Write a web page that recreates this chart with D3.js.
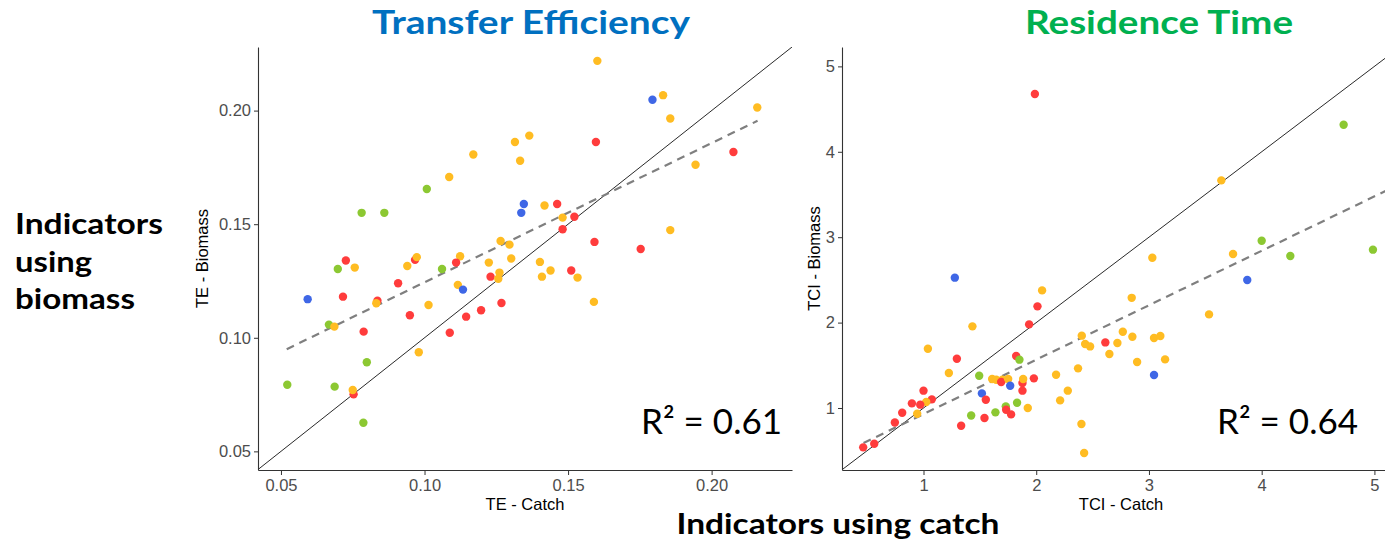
<!DOCTYPE html>
<meta charset="utf-8">
<style>
    body { margin: 0; background: #fff; }
    svg { display: block; }
    .tick text { fill: #4d4d4d; font-family: "Liberation Sans", Arial, sans-serif; font-size: 16.5px; }
    .tick line { stroke: #333; }
    .domain { stroke: #333; stroke-width: 1.1; }
</style>
<svg width="1385" height="544"></svg>
<script src="https://cdn.jsdelivr.net/npm/d3@7"></script>
<script>

    // Transfer efficiency, catch vs biomass based indicator
    var teCatch = [0.0781, 0.086, 0.1008, 0.1086, 0.117, 0.1265, 0.1794, 0.1831, 0.1602, 0.1856,
        0.2159, 0.1315, 0.1365, 0.1333, 0.1597, 0.2076, 0.1944, 0.1346, 0.1337, 0.1418,
        0.1462, 0.1481, 0.1522, 0.1481, 0.1856, 0.1592, 0.1753, 0.1296, 0.1302, 0.1224,
        0.1402, 0.1439, 0.1409, 0.1511, 0.1533, 0.123, 0.1261, 0.1257, 0.1268, 0.1197,
        0.159, 0.0726, 0.0698, 0.0757, 0.094, 0.0967, 0.0973, 0.1124, 0.111, 0.1061,
        0.1116, 0.1134, 0.0908, 0.0593, 0.0716, 0.0836, 0.0832, 0.1014, 0.0949, 0.1145,
        0.1088, 0.0667, 0.0686, 0.0788, 0.0799, 0.098, 0.0522, 0.0687, 0.0753, 0.075, 0.0787];
    var teBiomass = [0.155, 0.155, 0.1655, 0.1708, 0.1807, 0.1426, 0.2048, 0.2068, 0.2219, 0.1965,
        0.2014, 0.1862, 0.189, 0.1779, 0.1862, 0.1818, 0.1762, 0.1589, 0.155, 0.1582,
        0.1589, 0.1529, 0.1533, 0.1478, 0.1474, 0.1422, 0.1391, 0.141, 0.1349, 0.1331,
        0.1334, 0.1296, 0.1269, 0.1296, 0.1265, 0.1269, 0.1287, 0.126, 0.1153, 0.1121,
        0.1158, 0.134, 0.1303, 0.1309, 0.1316, 0.1343, 0.1355, 0.1359, 0.1331, 0.1303,
        0.1233, 0.1212, 0.124, 0.117, 0.1181, 0.1163, 0.1152, 0.1144, 0.1099, 0.1093,
        0.1022, 0.1058, 0.1049, 0.1027, 0.0892, 0.0936, 0.0793, 0.0785, 0.0751, 0.077, 0.0626];
    var teGroup = ["G", "G", "G", "O", "O", "O", "B", "O", "O", "O",
        "O", "O", "O", "O", "R", "R", "O", "B", "B", "O",
        "R", "O", "R", "R", "O", "R", "R", "O", "O", "O",
        "O", "O", "O", "R", "O", "R", "O", "O", "R", "R",
        "O", "R", "G", "O", "O", "R", "O", "O", "R", "G",
        "O", "B", "R", "B", "R", "R", "O", "O", "R", "R",
        "R", "G", "O", "R", "G", "O", "G", "G", "R", "O", "G"];
    var teFitX = [0.052, 0.216];
    var teFitY = [0.095, 0.1955];
    var teTicks = [0.05, 0.10, 0.15, 0.20];

    // Residence time (TCI), catch vs biomass based indicator
    var tciCatch = [1.988, 1.278, 2.052, 4.727, 3.642, 4.0, 3.746, 4.254, 4.987, 3.03,
        3.872, 2.847, 2.011, 1.937, 1.434, 2.404, 2.434, 2.478, 1.039, 1.822,
        1.851, 1.296, 1.225, 1.494, 1.609, 1.645, 1.7, 1.689, 1.751, 1.878,
        1.884, 1.979, 1.769, 1.878, 2.176, 2.371, 2.28, 2.212, 1.518, 1.553,
        1.0, 1.074, 1.024, 0.897, 0.971, 0.811, 0.944, 0.746, 0.563, 0.465,
        1.73, 1.733, 1.777, 1.83, 1.925, 1.638, 1.423, 1.541, 1.334, 2.401,
        2.425, 3.533, 2.768, 2.853, 3.045, 3.101, 2.613, 2.72, 2.649, 2.895, 3.143, 3.045];
    var tciBiomass = [4.677, 2.526, 2.377, 4.317, 3.665, 2.959, 2.803, 2.78, 2.854, 2.76,
        2.499, 2.29, 2.19, 1.979, 1.956, 1.847, 1.749, 1.721, 1.694, 1.609,
        1.566, 1.577, 1.41, 1.378, 1.34, 1.331, 1.331, 1.304, 1.34, 1.293,
        1.34, 1.347, 1.261, 1.203, 1.39, 1.464, 1.203, 1.089, 1.171, 1.097,
        1.203, 1.101, 1.07, 1.054, 1.039, 0.945, 0.933, 0.831, 0.582, 0.539,
        1.019, 0.98, 0.925, 1.062, 1.0, 0.949, 0.913, 0.883, 0.793, 0.813,
        0.473, 2.096, 1.893, 1.835, 1.82, 1.843, 1.768, 1.761, 1.632, 1.539, 1.569, 1.386];
    var tciGroup = ["R", "B", "O", "G", "O", "G", "O", "G", "G", "O",
        "B", "O", "R", "R", "O", "O", "O", "O", "O", "R",
        "G", "R", "O", "G", "O", "O", "O", "R", "O", "R",
        "O", "R", "B", "R", "O", "O", "O", "O", "B", "R",
        "R", "R", "O", "R", "R", "R", "O", "R", "R", "R",
        "G", "R", "R", "G", "O", "G", "G", "R", "R", "O",
        "O", "O", "O", "O", "O", "O", "R", "O", "O", "O", "O", "B"];
    var tciFitX = [0.468, 5.2];
    var tciFitY = [0.59, 3.605];
    var tciTicks = [1, 2, 3, 4, 5];

    var groupColor = { R: "#ff3c3c", O: "#ffbc22", G: "#8cc832", B: "#3f67e6" };

    var svg = d3.select("svg");
    var plotTop = 47, plotBottom = 470;

    var panels = [
        {
            xs: teCatch, ys: teBiomass, gs: teGroup, fitX: teFitX, fitY: teFitY,
            xDomain: [0.042, 0.228], yDomain: [0.0418, 0.228], left: 258, right: 792,
            ticks: teTicks, fmt: d3.format(".2f"),
            xTitle: "TE - Catch", yTitle: "TE - Biomass", yTitleX: 208, r2: "R² = 0.61", r2X: 782
        },
        {
            xs: tciCatch, ys: tciBiomass, gs: tciGroup, fitX: tciFitX, fitY: tciFitY,
            xDomain: [0.277, 5.227], yDomain: [0.274, 5.227], left: 842, right: 1400,
            ticks: tciTicks, fmt: d3.format("d"),
            xTitle: "TCI - Catch", yTitle: "TCI - Biomass", yTitleX: 820, r2: "R² = 0.64", r2X: 1358
        }
    ];

    panels.forEach(function (p, k) {
        var x = d3.scaleLinear().domain(p.xDomain).range([p.left, p.right]);
        var y = d3.scaleLinear().domain(p.yDomain).range([plotBottom, plotTop]);
        var g = svg.append("g");

        g.append("clipPath").attr("id", "clip" + k)
            .append("rect")
            .attr("x", p.left).attr("y", plotTop)
            .attr("width", p.right - p.left).attr("height", plotBottom - plotTop);

        var plot = g.append("g").attr("clip-path", "url(#clip" + k + ")");

        // 1:1 line
        var lo = Math.max(p.xDomain[0], p.yDomain[0]), hi = Math.max(p.xDomain[1], p.yDomain[1]);
        plot.append("line")
            .attr("x1", x(lo)).attr("y1", y(lo))
            .attr("x2", x(hi)).attr("y2", y(hi))
            .attr("stroke", "#111").attr("stroke-width", 0.9);

        // regression line
        plot.append("line")
            .attr("x1", x(p.fitX[0])).attr("y1", y(p.fitY[0]))
            .attr("x2", x(p.fitX[1])).attr("y2", y(p.fitY[1]))
            .attr("stroke", "#7f7f7f").attr("stroke-width", 2.2)
            .attr("stroke-dasharray", "8,6");

        plot.selectAll("circle")
            .data(d3.range(p.xs.length))
            .enter().append("circle")
            .attr("cx", function (i) { return x(p.xs[i]); })
            .attr("cy", function (i) { return y(p.ys[i]); })
            .attr("r", 4.2)
            .attr("fill", function (i) { return groupColor[p.gs[i]]; });

        g.append("g")
            .attr("transform", "translate(0," + plotBottom + ")")
            .call(d3.axisBottom(x).tickValues(p.ticks).tickFormat(p.fmt).tickSize(5).tickSizeOuter(0).tickPadding(4));

        g.append("g")
            .attr("transform", "translate(" + p.left + ",0)")
            .call(d3.axisLeft(y).tickValues(p.ticks).tickFormat(p.fmt).tickSize(4).tickSizeOuter(0).tickPadding(3));

        g.append("text")
            .attr("x", (p.left + p.right) / 2).attr("y", 510)
            .attr("text-anchor", "middle")
            .style("font-family", "'Liberation Sans', Arial, sans-serif")
            .style("font-size", "16.5px")
            .text(p.xTitle);

        g.append("text")
            .attr("transform", "translate(" + p.yTitleX + "," + (plotTop + plotBottom) / 2 + ") rotate(-90)")
            .attr("text-anchor", "middle")
            .style("font-family", "'Liberation Sans', Arial, sans-serif")
            .style("font-size", "16.5px")
            .text(p.yTitle);

        g.append("text")
            .attr("x", p.r2X).attr("y", 434)
            .attr("text-anchor", "end")
            .style("font-family", "Lato, sans-serif")
            .style("font-size", "35px")
            .text(p.r2);
    });

    // headings
    svg.append("text")
        .attr("x", 531).attr("y", 34)
        .attr("text-anchor", "middle")
        .attr("textLength", 318).attr("lengthAdjust", "spacingAndGlyphs")
        .style("font-family", "Lato, sans-serif").style("font-weight", 700)
        .style("font-size", "33px").style("fill", "#0070c0")
        .text("Transfer Efficiency");

    svg.append("text")
        .attr("x", 1159).attr("y", 34)
        .attr("text-anchor", "middle")
        .attr("textLength", 268).attr("lengthAdjust", "spacingAndGlyphs")
        .style("font-family", "Lato, sans-serif").style("font-weight", 700)
        .style("font-size", "33px").style("fill", "#00b050")
        .text("Residence Time");

    var sideLines = ["Indicators", "using", "biomass"];
    var sideWidths = [148, 77, 120];
    svg.append("g").selectAll("text")
        .data(sideLines)
        .enter().append("text")
        .attr("x", 15)
        .attr("y", function (d, i) { return 234 + i * 37.5; })
        .attr("textLength", function (d, i) { return sideWidths[i]; })
        .attr("lengthAdjust", "spacingAndGlyphs")
        .style("font-family", "Lato, sans-serif").style("font-weight", 700)
        .style("font-size", "28px").style("fill", "#000")
        .text(function (d) { return d; });

    svg.append("text")
        .attr("x", 838).attr("y", 534)
        .attr("text-anchor", "middle")
        .attr("textLength", 323).attr("lengthAdjust", "spacingAndGlyphs")
        .style("font-family", "Lato, sans-serif").style("font-weight", 700)
        .style("font-size", "28px").style("fill", "#000")
        .text("Indicators using catch");

</script>
